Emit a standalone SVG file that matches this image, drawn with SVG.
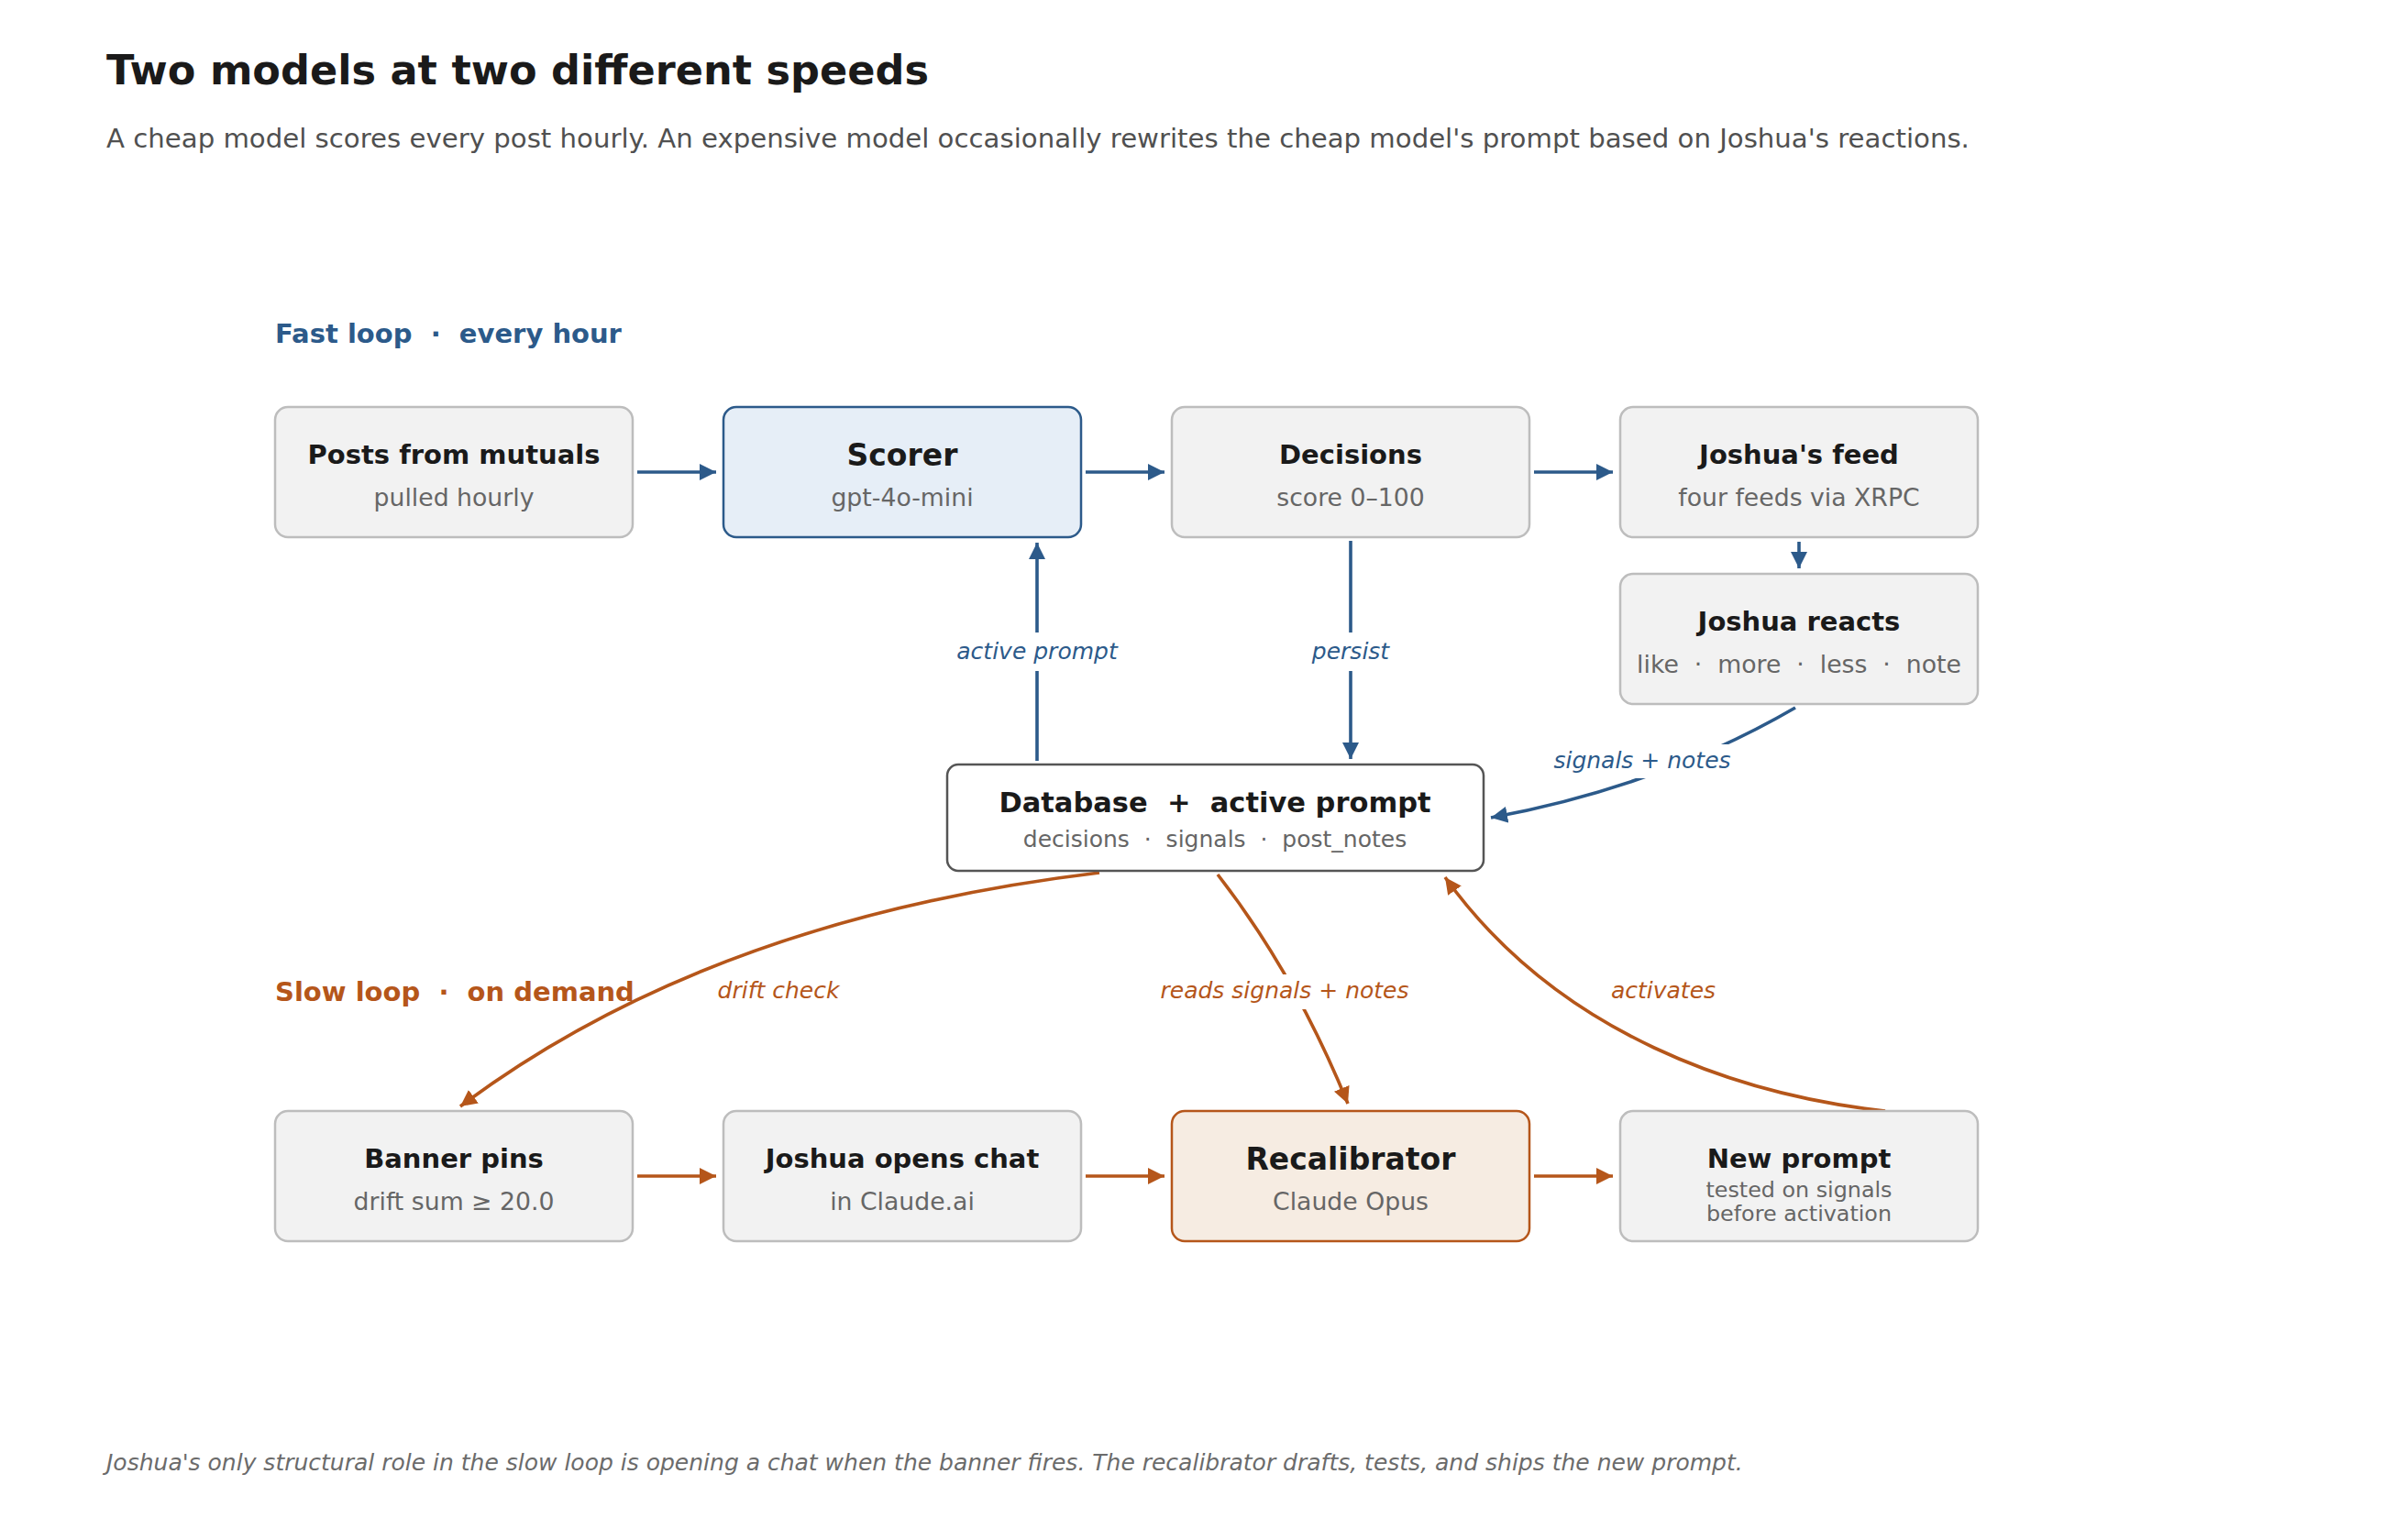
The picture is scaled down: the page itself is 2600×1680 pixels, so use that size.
<svg xmlns="http://www.w3.org/2000/svg" width="2600" height="1680" viewBox="0 0 2600 1680">
<style>
text{font-family:"DejaVu Sans","Liberation Sans",sans-serif;}
.h1{font-size:44.6px;font-weight:bold;fill:#1a1a1a;}
.sub{font-size:29.2px;fill:#505050;}
.sec{font-size:29px;font-weight:bold;}
.t{font-size:29px;font-weight:bold;fill:#1a1a1a;text-anchor:middle;}
.tb{font-size:33px;font-weight:bold;fill:#1a1a1a;text-anchor:middle;}
.s{font-size:26.7px;fill:#666;text-anchor:middle;}
.s2{font-size:23.8px;fill:#666;text-anchor:middle;}
.lab{font-size:25px;font-style:italic;text-anchor:middle;}
.foot{font-size:25px;font-style:italic;fill:#6b6b6b;}
.box{fill:#f2f2f2;stroke:#bdbdbd;stroke-width:2.5;}
.blue{stroke:#2c5a8a;}
.orange{stroke:#b5561a;}
.ln{fill:none;stroke-width:3.6;}
</style>
<defs>
<marker id="ab" markerUnits="userSpaceOnUse" markerWidth="20" markerHeight="18" refX="18" refY="9" orient="auto"><path d="M0,0 L18,9 L0,18 z" fill="#2c5a8a"/></marker>
<marker id="ao" markerUnits="userSpaceOnUse" markerWidth="20" markerHeight="18" refX="18" refY="9" orient="auto"><path d="M0,0 L18,9 L0,18 z" fill="#b5561a"/></marker>
</defs>
<rect width="2600" height="1680" fill="#fff"/>
<text class="h1" x="116" y="92">Two models at two different speeds</text>
<text class="sub" x="116" y="161">A cheap model scores every post hourly. An expensive model occasionally rewrites the cheap model's prompt based on Joshua's reactions.</text>
<text class="sec" x="300" y="374" fill="#2c5a8a" xml:space="preserve">Fast loop  ·  every hour</text>
<text class="sec" x="300" y="1092" fill="#b5561a" xml:space="preserve">Slow loop  ·  on demand</text>

<g id="connectors">
<path class="ln blue" d="M695,515 H781" marker-end="url(#ab)"/>
<path class="ln blue" d="M1184,515 H1270" marker-end="url(#ab)"/>
<path class="ln blue" d="M1673,515 H1759" marker-end="url(#ab)"/>
<path class="ln blue" d="M1962,591 V620" marker-end="url(#ab)"/>
<path class="ln blue" d="M1131,830 V732 M1131,690 V592" marker-end="url(#ab)"/>
<path class="ln blue" d="M1473,590 V690 M1473,732 V828" marker-end="url(#ab)"/>
<path class="ln blue" d="M1958,772 Q1810,858 1626,892" marker-end="url(#ab)"/>
<rect x="1690" y="812" width="202" height="37" fill="#fff"/>
<text class="lab" x="1791" y="838" fill="#2c5a8a">signals + notes</text>
<text class="lab" x="1131" y="719" fill="#2c5a8a">active prompt</text>
<text class="lab" x="1473" y="719" fill="#2c5a8a">persist</text>

<path class="ln orange" d="M695,1283 H781" marker-end="url(#ao)"/>
<path class="ln orange" d="M1184,1283 H1270" marker-end="url(#ao)"/>
<path class="ln orange" d="M1673,1283 H1759" marker-end="url(#ao)"/>
<path class="ln orange" d="M1199,952 Q774,1003 502,1207" marker-end="url(#ao)"/>
<path class="ln orange" d="M1328,954 Q1412,1062 1470,1204" marker-end="url(#ao)"/>
<path class="ln orange" d="M2056,1212 C1900,1195 1700,1130 1576,957" marker-end="url(#ao)"/>
<rect x="1262" y="1063" width="278" height="38" fill="#fff"/>
<text class="lab" x="849" y="1089" fill="#b5561a">drift check</text>
<text class="lab" x="1401" y="1089" fill="#b5561a">reads signals + notes</text>
<text class="lab" x="1814" y="1089" fill="#b5561a">activates</text>
</g>

<g id="posts"><rect class="box" x="300" y="444" width="390" height="142" rx="14"/><text class="t" x="495" y="506">Posts from mutuals</text><text class="s" x="495" y="552">pulled hourly</text></g>
<g id="scorer"><rect x="789" y="444" width="390" height="142" rx="14" fill="#e6eef7" stroke="#2c5a8a" stroke-width="2.5"/><text class="tb" x="984" y="508">Scorer</text><text class="s" x="984" y="552">gpt-4o-mini</text></g>
<g id="decisions"><rect class="box" x="1278" y="444" width="390" height="142" rx="14"/><text class="t" x="1473" y="506">Decisions</text><text class="s" x="1473" y="552">score 0–100</text></g>
<g id="feed"><rect class="box" x="1767" y="444" width="390" height="142" rx="14"/><text class="t" x="1962" y="506">Joshua's feed</text><text class="s" x="1962" y="552">four feeds via XRPC</text></g>
<g id="reacts"><rect class="box" x="1767" y="626" width="390" height="142" rx="14"/><text class="t" x="1962" y="688">Joshua reacts</text><text class="s" x="1962" y="734" xml:space="preserve">like  ·  more  ·  less  ·  note</text></g>
<g id="database"><rect x="1033" y="834" width="585" height="116" rx="12" fill="#fff" stroke="#555" stroke-width="2.5"/><text class="t" x="1325" y="886" style="font-size:30.5px" xml:space="preserve">Database  +  active prompt</text><text class="s" x="1325" y="924" style="font-size:25px" xml:space="preserve">decisions  ·  signals  ·  post_notes</text></g>

<g id="banner"><rect class="box" x="300" y="1212" width="390" height="142" rx="14"/><text class="t" x="495" y="1274">Banner pins</text><text class="s" x="495" y="1320">drift sum ≥ 20.0</text></g>
<g id="chat"><rect class="box" x="789" y="1212" width="390" height="142" rx="14"/><text class="t" x="984" y="1274">Joshua opens chat</text><text class="s" x="984" y="1320">in Claude.ai</text></g>
<g id="recalibrator"><rect x="1278" y="1212" width="390" height="142" rx="14" fill="#f6ece2" stroke="#b5561a" stroke-width="2.5"/><text class="tb" x="1473" y="1276">Recalibrator</text><text class="s" x="1473" y="1320">Claude Opus</text></g>
<g id="newprompt"><rect class="box" x="1767" y="1212" width="390" height="142" rx="14"/><text class="t" x="1962" y="1274">New prompt</text><text class="s2" x="1962" y="1306">tested on signals</text><text class="s2" x="1962" y="1332">before activation</text></g>

<text class="foot" x="116" y="1604">Joshua's only structural role in the slow loop is opening a chat when the banner fires. The recalibrator drafts, tests, and ships the new prompt.</text>
</svg>
